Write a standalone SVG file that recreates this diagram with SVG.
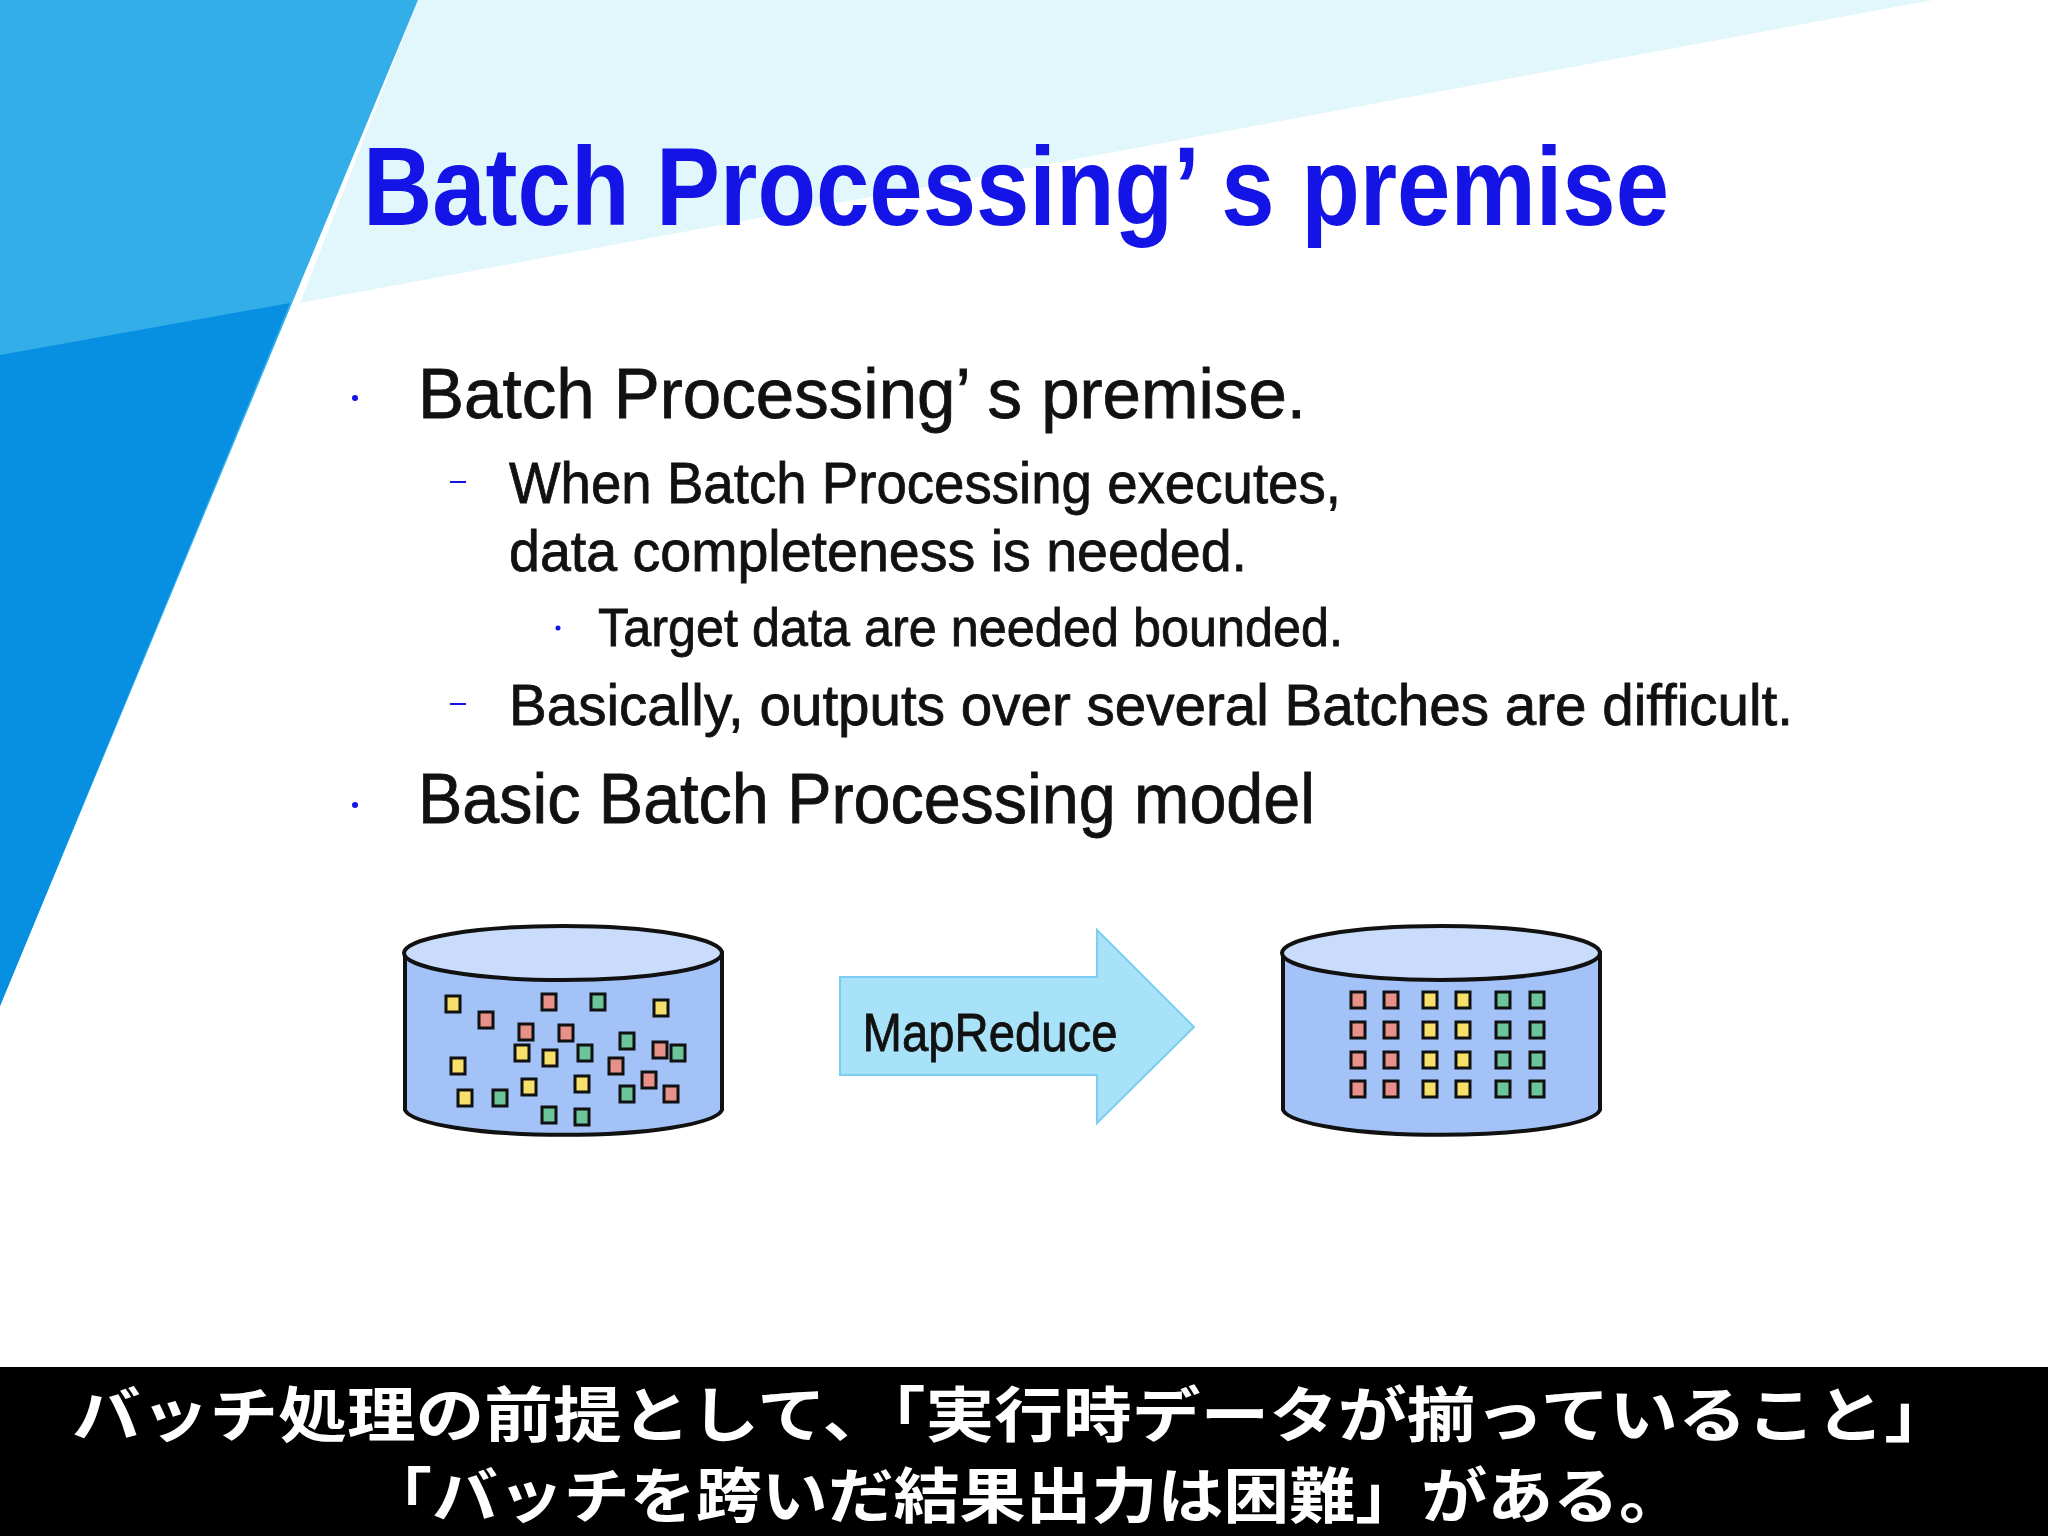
<svg xmlns="http://www.w3.org/2000/svg" width="2048" height="1536" viewBox="0 0 2048 1536">
<style>
.t{font-family:"Liberation Sans","Noto Sans CJK JP",sans-serif;fill:#111;stroke:#111;stroke-width:0.8}
.sq{stroke:#111;stroke-width:3}
.y{fill:#f7e06a}.p{fill:#e8908a}.g{fill:#6cc49a}
.cyl{fill:#a3c2f7;stroke:#111;stroke-width:4}
.top{fill:#cadcfb;stroke:#111;stroke-width:4}
.sub{font-family:"Noto Sans CJK JP",sans-serif;font-weight:bold;fill:#fff;font-size:60px}
</style>
<defs>
<rect id="s" x="-7" y="-8" width="14" height="16"/>
</defs>
<rect width="2048" height="1536" fill="#fff"/>
<polygon points="418,0 1933,0 300,303" fill="#e2f7fc"/>
<polygon points="0,0 418,0 0,1006" fill="#33aee9"/>
<polygon points="0,355 290,303 0,1006" fill="#0790e2"/>
<text x="363" y="225" font-size="112" font-weight="bold" style="font-family:'Liberation Sans',sans-serif;fill:#1414e6" textLength="1306" lengthAdjust="spacingAndGlyphs">Batch Processing’ s premise</text>
<g id="bullets">
<circle cx="355" cy="398" r="3" fill="#1414e6"/>
<text class="t" x="418" y="418" font-size="70" textLength="888" lengthAdjust="spacingAndGlyphs">Batch Processing’ s premise.</text>
<line x1="450" y1="482" x2="466" y2="482" stroke="#1414e6" stroke-width="2"/>
<text class="t" x="509" y="503" font-size="58" textLength="832" lengthAdjust="spacingAndGlyphs">When Batch Processing executes,</text>
<text class="t" x="509" y="571" font-size="58" textLength="738" lengthAdjust="spacingAndGlyphs">data completeness is needed.</text>
<circle cx="558" cy="628" r="2.5" fill="#1414e6"/>
<text class="t" x="598" y="646" font-size="54" textLength="745" lengthAdjust="spacingAndGlyphs">Target data are needed bounded.</text>
<line x1="450" y1="704" x2="466" y2="704" stroke="#1414e6" stroke-width="2"/>
<text class="t" x="509" y="725" font-size="58" textLength="1284" lengthAdjust="spacingAndGlyphs">Basically, outputs over several Batches are difficult.</text>
<circle cx="355" cy="805" r="3" fill="#1414e6"/>
<text class="t" x="418" y="823" font-size="70" textLength="897" lengthAdjust="spacingAndGlyphs">Basic Batch Processing model</text>
</g>
<g id="left-db">
<path class="cyl" d="M405,953 V1110 A159,27 0 0 0 722,1110 V953 Z"/>
<ellipse class="top" cx="563" cy="953" rx="159" ry="27"/>
<g class="sq">
<use href="#s" class="y" x="453" y="1004"/><use href="#s" class="p" x="486" y="1020"/><use href="#s" class="p" x="549" y="1002"/><use href="#s" class="g" x="598" y="1002"/><use href="#s" class="y" x="661" y="1008"/>
<use href="#s" class="p" x="526" y="1032"/><use href="#s" class="p" x="566" y="1033"/><use href="#s" class="g" x="627" y="1041"/><use href="#s" class="p" x="660" y="1050"/><use href="#s" class="g" x="678" y="1053"/>
<use href="#s" class="y" x="522" y="1053"/><use href="#s" class="y" x="550" y="1058"/><use href="#s" class="g" x="585" y="1053"/><use href="#s" class="p" x="616" y="1066"/>
<use href="#s" class="y" x="458" y="1066"/><use href="#s" class="y" x="529" y="1087"/><use href="#s" class="y" x="582" y="1084"/><use href="#s" class="p" x="649" y="1080"/><use href="#s" class="g" x="627" y="1094"/><use href="#s" class="p" x="671" y="1094"/>
<use href="#s" class="y" x="465" y="1098"/><use href="#s" class="g" x="500" y="1098"/><use href="#s" class="g" x="549" y="1115"/><use href="#s" class="g" x="582" y="1117"/>
</g>
</g>
<g id="arrow">
<polygon points="840,977 1097,977 1097,930 1194,1027 1097,1123 1097,1075 840,1075" fill="#a8e2f8" stroke="#7ccdf0" stroke-width="2"/>
<text class="t" x="990" y="1051" font-size="54" text-anchor="middle" textLength="255" lengthAdjust="spacingAndGlyphs">MapReduce</text>
</g>
<g id="right-db">
<path class="cyl" d="M1283,953 V1110 A159,27 0 0 0 1600,1110 V953 Z"/>
<ellipse class="top" cx="1441" cy="953" rx="159" ry="27"/>
<g class="sq">
<use href="#s" class="p" x="1358" y="1000"/><use href="#s" class="p" x="1391" y="1000"/><use href="#s" class="y" x="1430" y="1000"/><use href="#s" class="y" x="1463" y="1000"/><use href="#s" class="g" x="1503" y="1000"/><use href="#s" class="g" x="1537" y="1000"/>
<use href="#s" class="p" x="1358" y="1030"/><use href="#s" class="p" x="1391" y="1030"/><use href="#s" class="y" x="1430" y="1030"/><use href="#s" class="y" x="1463" y="1030"/><use href="#s" class="g" x="1503" y="1030"/><use href="#s" class="g" x="1537" y="1030"/>
<use href="#s" class="p" x="1358" y="1060"/><use href="#s" class="p" x="1391" y="1060"/><use href="#s" class="y" x="1430" y="1060"/><use href="#s" class="y" x="1463" y="1060"/><use href="#s" class="g" x="1503" y="1060"/><use href="#s" class="g" x="1537" y="1060"/>
<use href="#s" class="p" x="1358" y="1089"/><use href="#s" class="p" x="1391" y="1089"/><use href="#s" class="y" x="1430" y="1089"/><use href="#s" class="y" x="1463" y="1089"/><use href="#s" class="g" x="1503" y="1089"/><use href="#s" class="g" x="1537" y="1089"/>
</g>
</g>
<rect x="0" y="1367" width="2048" height="169" fill="#000"/>
<text class="sub" x="72" y="1437" textLength="1881" lengthAdjust="spacingAndGlyphs">バッチ処理の前提として、「実行時データが揃っていること」</text>
<text class="sub" x="366" y="1518" textLength="1319" lengthAdjust="spacingAndGlyphs">「バッチを跨いだ結果出力は困難」がある。</text>
</svg>
